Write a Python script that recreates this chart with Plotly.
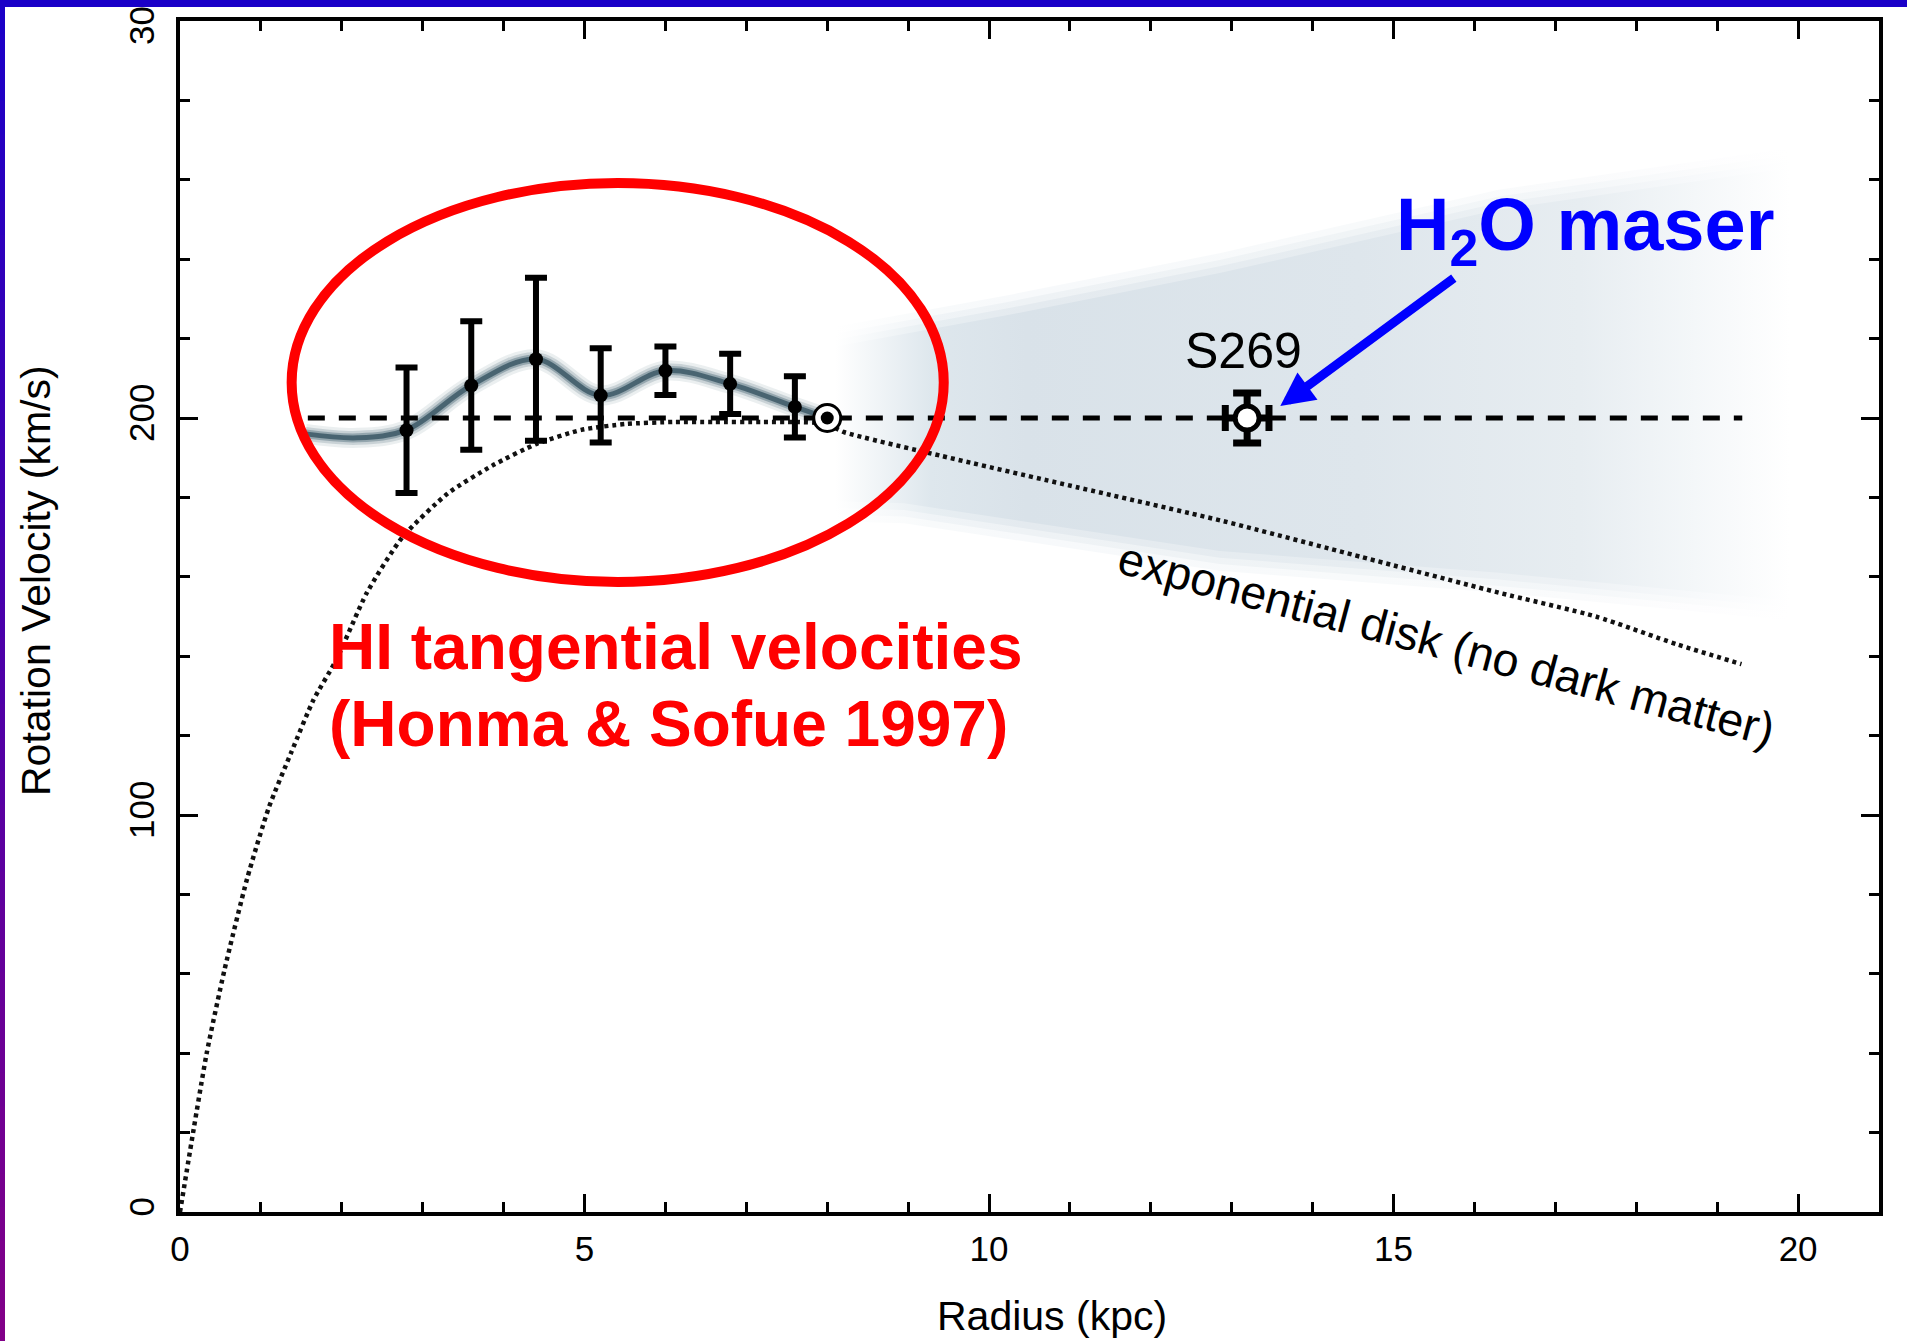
import plotly.graph_objects as go

# ---------------- data ----------------
hi_r = [2.8, 3.6, 4.4, 5.2, 6.0, 6.8, 7.6]
hi_v = [196.9, 208.2, 214.8, 205.7, 211.9, 208.6, 202.8]
hi_err = [15.8, 16.2, 20.5, 11.9, 6.1, 7.6, 7.7]

sun_r = [8.0]
sun_v = [200.0]

s269_r = [13.19]
s269_v = [200.0]
s269_err_r = [0.27]
s269_err_v = [6.3]

flat_r = [1.58, 19.31]
flat_v = [200.0, 200.0]

disk_r = [0, 0.17, 0.33, 0.55, 0.83, 1.1, 1.38, 1.65, 1.93, 2.31, 2.75, 3.31, 3.86,
          4.41, 4.96, 5.51, 6.1, 6.6, 7.2, 7.6, 8.0, 8.2, 9.4, 11.1, 12.9, 14.6,
          16.3, 17.5, 18.5, 19.3]
disk_v = [0, 21, 40, 61, 84, 102, 116, 129, 139, 156, 170, 181, 188,
          193.5, 197, 198.5, 199, 199, 199, 199, 198.5, 196.5, 190.5, 182.5, 174, 165,
          156, 150, 143, 138]

hi_fit_r = [1.55, 2.2, 2.8, 3.6, 4.4, 5.2, 6.0, 6.8, 7.6, 8.0]
hi_fit_v = [196.0, 195.0, 197.0, 208.2, 214.8, 205.7, 211.9, 208.6, 202.8, 200.0]

wedge_top_r = [8.1, 10.25, 12.85, 16.3, 19.9]
wedge_top_v = [218, 226, 236.5, 252.5, 263]
wedge_bot_r = [8.1, 8.95, 12.85, 16.3, 19.9]
wedge_bot_v = [179, 178.5, 166.5, 161, 154]

x_ticks = [0, 5, 10, 15, 20]
y_ticks = [0, 100, 200, 300]

# ---------------- layout geometry ----------------
W, H = 1907, 1341
ML, MR, MT, MB = 180, 28, 21, 129
PW, PH = W - ML - MR, H - MT - MB


def pxx(px):
    return (px - ML) / PW


def pyy(py):
    return (H - MB - py) / PH


fig = go.Figure()

# shaded wedge (maser constraint region), drawn in soft-edged layers
base_stops = [(0.0, (255, 255, 255)), (0.1, (222, 231, 237)), (0.2, (217, 226, 233)),
              (0.55, (222, 230, 236)), (0.78, (231, 237, 241)), (0.9, (244, 247, 249)),
              (1.0, (255, 255, 255))]
for pad, f in [(5, 0.2), (3.3, 0.45), (1.7, 0.72), (0, 1.0)]:
    xs = wedge_top_r + wedge_bot_r[::-1]
    ys = [v + pad for v in wedge_top_v] + [v - pad for v in wedge_bot_v[::-1]]
    cs = []
    for p, c in base_stops:
        cc = tuple(round(255 + (ci - 255) * f) for ci in c)
        cs.append([p, "rgb(%d,%d,%d)" % cc])
    fig.add_trace(go.Scatter(
        x=xs, y=ys, mode="lines", fill="toself",
        line=dict(width=0, color="rgba(0,0,0,0)"),
        fillgradient=dict(type="horizontal", start=8.1, stop=19.9, colorscale=cs),
        hoverinfo="skip", showlegend=False))

# blurred HI fit curve
for w, c in [(20, "rgba(90,120,135,0.12)"), (14, "rgba(80,110,125,0.22)"),
             (9, "rgba(70,100,115,0.4)"), (5, "rgba(60,88,102,0.85)")]:
    fig.add_trace(go.Scatter(x=hi_fit_r, y=hi_fit_v, mode="lines",
                             line=dict(color=c, width=w, shape="spline", smoothing=1.0),
                             hoverinfo="skip", showlegend=False))

# flat rotation line
fig.add_trace(go.Scatter(x=flat_r, y=flat_v, mode="lines",
                         line=dict(color="black", width=5, dash="17px,14px"),
                         showlegend=False))

# exponential disk curve
fig.add_trace(go.Scatter(x=disk_r, y=disk_v, mode="lines",
                         line=dict(color="#111111", width=4.5, dash="4px,4px",
                                   shape="spline", smoothing=0.6),
                         showlegend=False))

# HI tangent points
fig.add_trace(go.Scatter(x=hi_r, y=hi_v, mode="markers",
                         marker=dict(color="black", size=14),
                         error_y=dict(type="data", array=hi_err, visible=True,
                                      color="black", thickness=6, width=11),
                         showlegend=False))

# Sun
fig.add_trace(go.Scatter(x=sun_r, y=sun_v, mode="markers",
                         marker=dict(color="white", size=27,
                                     line=dict(color="black", width=3)),
                         showlegend=False))
fig.add_trace(go.Scatter(x=sun_r, y=sun_v, mode="markers",
                         marker=dict(color="black", size=13),
                         showlegend=False))

# S269
fig.add_trace(go.Scatter(x=s269_r, y=s269_v, mode="markers",
                         marker=dict(color="white", size=24,
                                     line=dict(color="black", width=5)),
                         error_x=dict(type="data", array=s269_err_r, visible=True,
                                      color="black", thickness=7, width=13),
                         error_y=dict(type="data", array=s269_err_v, visible=True,
                                      color="black", thickness=7, width=14),
                         showlegend=False))

axis_common = dict(showline=True, linecolor="black", linewidth=4, mirror="ticks",
                   ticks="inside", tickcolor="black", tickwidth=3, ticklen=18,
                   showgrid=False, zeroline=False, automargin=False,
                   tickfont=dict(family="Liberation Sans, Arial, sans-serif",
                                 size=35, color="black"))

fig.update_xaxes(range=[0, 21], tickvals=x_ticks, ticktext=[str(v) for v in x_ticks],
                 minor=dict(dtick=1, tick0=0, ticks="inside", ticklen=10,
                            tickwidth=3, tickcolor="black"),
                 ticklabelstandoff=3, **axis_common)
fig.update_yaxes(range=[0, 300], tickvals=y_ticks, ticktext=[str(v) for v in y_ticks],
                 minor=dict(dtick=20, tick0=0, ticks="inside", ticklen=10,
                            tickwidth=3, tickcolor="black"),
                 tickangle=-90, ticklabeloverflow="allow", ticklabelstandoff=8,
                 **axis_common)

shapes = []
# red ellipse
shapes.append(dict(type="circle", xref="x", yref="y", x0=1.38, x1=9.44,
                   y0=158.7, y1=259.2, line=dict(color="#ff0000", width=10),
                   layer="above"))
# slide border: top bar
shapes.append(dict(type="rect", xref="paper", yref="paper", x0=pxx(0), x1=pxx(W),
                   y0=pyy(7), y1=pyy(0), fillcolor="#1a00c8", line=dict(width=0),
                   layer="above"))
# slide border: left bar with gradient
n = 40
c0 = (26, 0, 200)
c1 = (130, 0, 135)
for i in range(n):
    t = (i + 0.5) / n
    col = "rgb(%d,%d,%d)" % tuple(round(a + (b - a) * t) for a, b in zip(c0, c1))
    shapes.append(dict(type="rect", xref="paper", yref="paper", x0=pxx(0), x1=pxx(5),
                       y0=pyy(H * (i + 1) / n + 1), y1=pyy(H * i / n),
                       fillcolor=col, line=dict(width=0), layer="above"))

font_main = "Liberation Sans, Arial, Helvetica, sans-serif"
annotations = [
    dict(text="Rotation Velocity (km/s)", xref="paper", yref="paper",
         x=pxx(36), y=pyy(581), textangle=-90, showarrow=False,
         xanchor="center", yanchor="middle",
         font=dict(family=font_main, size=41, color="black")),
    dict(text="Radius (kpc)", xref="paper", yref="paper",
         x=pxx(1052), y=pyy(1316), showarrow=False,
         xanchor="center", yanchor="middle",
         font=dict(family=font_main, size=41, color="black")),
    dict(text="<b>HI tangential velocities</b>", xref="x", yref="y",
         x=1.82, y=142.2, showarrow=False, xanchor="left", yanchor="middle",
         font=dict(family=font_main, size=64, color="#ff0000")),
    dict(text="<b>(Honma &amp; Sofue 1997)</b>", xref="x", yref="y",
         x=1.82, y=122.8, showarrow=False, xanchor="left", yanchor="middle",
         font=dict(family=font_main, size=64, color="#ff0000")),
    dict(text="<b>H<sub>2</sub>O maser</b>", xref="x", yref="y",
         x=15.0, y=247.4, showarrow=False, xanchor="left", yanchor="middle",
         font=dict(family=font_main, size=74, color="#0000ff")),
    dict(text="S269", xref="x", yref="y", x=13.14, y=217.0, showarrow=False,
         xanchor="center", yanchor="middle",
         font=dict(family=font_main, size=50, color="black")),
    dict(text="exponential disk (no dark matter)", xref="x", yref="y",
         x=15.66, y=143.2, showarrow=False, textangle=14.9,
         xanchor="center", yanchor="middle",
         font=dict(family=font_main, size=46.5, color="black")),
    dict(text="", xref="x", yref="y", x=13.6, y=203.0, ax=175, ay=-129,
         showarrow=True, arrowhead=2, arrowsize=0.75, arrowwidth=9,
         arrowcolor="#0000ff", standoff=0),
]

fig.update_layout(
    template="none",
    width=W, height=H,
    margin=dict(l=ML, r=MR, t=MT, b=MB, pad=0),
    paper_bgcolor="white", plot_bgcolor="white",
    showlegend=False,
    shapes=shapes,
    annotations=annotations,
)

fig.write_html("out.html")
